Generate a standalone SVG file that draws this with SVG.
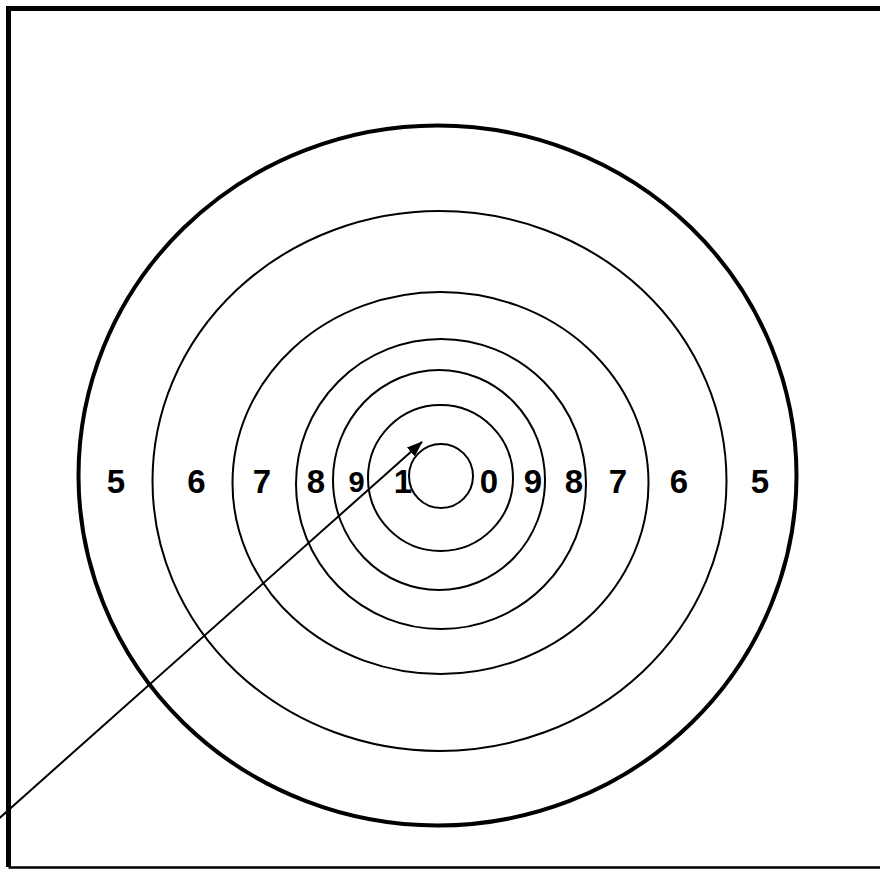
<svg xmlns="http://www.w3.org/2000/svg" width="880" height="872" viewBox="0 0 880 872">
<style>
.ring{fill:none;stroke:#000;stroke-width:2}
.lbl{font-family:"Liberation Sans",Arial,sans-serif;font-weight:bold;font-size:33px;text-anchor:middle;fill:#000}
</style>
<defs>
<marker id="ah" markerWidth="16" markerHeight="12" refX="15" refY="6" orient="auto" markerUnits="userSpaceOnUse">
<path d="M0,0 L16,6 L0,12 Z" fill="#000"/>
</marker>
</defs>
<rect width="880" height="872" fill="#fff"/>
<g id="frame">
<path d="M890,8.5 L8.5,8.5 L8.5,867" fill="none" stroke="#000" stroke-width="5"/>
<line x1="8.5" y1="867.5" x2="880" y2="867.5" stroke="#000" stroke-width="2.5"/>
</g>
<g id="target">
<ellipse id="ring5" cx="437.5" cy="475.5" rx="359" ry="350" fill="none" stroke="#000" stroke-width="4"/>
<ellipse id="ring6" class="ring" cx="439.5" cy="481" rx="287" ry="270"/>
<ellipse id="ring7" class="ring" cx="440.5" cy="483" rx="208" ry="191"/>
<ellipse id="ring8" class="ring" cx="441" cy="484" rx="145" ry="145"/>
<ellipse id="ring9" class="ring" cx="439" cy="480" rx="106" ry="110"/>
<ellipse id="ring10" class="ring" cx="440.5" cy="478" rx="72.5" ry="73"/>
<ellipse id="bull" class="ring" cx="441" cy="476" rx="32" ry="32"/>
</g>
<g id="labels">
<text class="lbl" x="116" y="493">5</text>
<text class="lbl" x="196.5" y="493">6</text>
<text class="lbl" x="262" y="493">7</text>
<text class="lbl" x="316" y="493">8</text>
<text class="lbl" x="356.5" y="492" style="font-size:29px">9</text>
<text class="lbl" x="403" y="493">1</text>
<text class="lbl" x="489" y="493">0</text>
<text class="lbl" x="533" y="493">9</text>
<text class="lbl" x="574" y="493">8</text>
<text class="lbl" x="618" y="493">7</text>
<text class="lbl" x="679" y="493">6</text>
<text class="lbl" x="760" y="493">5</text>
</g>
<g id="connectors">
<line x1="-5" y1="822" x2="422" y2="442" stroke="#000" stroke-width="2" marker-end="url(#ah)"/>
</g>
</svg>
